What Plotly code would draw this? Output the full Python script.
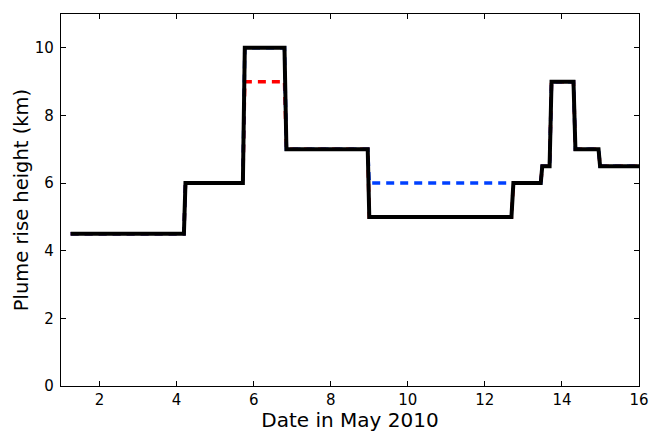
import plotly.graph_objects as go

# Date in May 2010 (days) and plume rise heights (km)
days = [1.25, 4.19, 4.23, 5.72, 5.77, 6.80, 6.85, 8.96, 9.00, 12.69, 12.74,
        13.45, 13.49, 13.68, 13.73, 14.30, 14.35, 14.95, 14.99, 16.0]
height_black = [4.5, 4.5, 6, 6, 10, 10, 7, 7, 5, 5, 6, 6, 6.5, 6.5, 9, 9, 7, 7, 6.5, 6.5]
height_red = [4.5, 4.5, 6, 6, 9, 9, 7, 7, 5, 5, 6, 6, 6.5, 6.5, 9, 9, 7, 7, 6.5, 6.5]
height_blue = [4.5, 4.5, 6, 6, 10, 10, 7, 7, 6, 6, 6, 6, 6.5, 6.5, 9, 9, 7, 7, 6.5, 6.5]

x_ticks = [2, 4, 6, 8, 10, 12, 14, 16]
y_ticks = [0, 2, 4, 6, 8, 10]

fig = go.Figure()
fig.add_trace(go.Scatter(x=days, y=height_red, mode="lines",
                         line=dict(color="#ff0000", width=3.5, dash="8px,6px")))
fig.add_trace(go.Scatter(x=days, y=height_blue, mode="lines",
                         line=dict(color="#0040ff", width=3.5, dash="8px,6px")))
fig.add_trace(go.Scatter(x=days, y=height_black, mode="lines",
                         line=dict(color="#000000", width=4)))

font = "DejaVu Sans, sans-serif"
fig.update_layout(
    width=649, height=432,
    margin=dict(l=61, r=10, t=14, b=46, autoexpand=False),
    paper_bgcolor="white", plot_bgcolor="white",
    showlegend=False,
    font=dict(family=font, color="black", size=15),
    xaxis=dict(range=[1, 16], tickvals=x_ticks, ticks="inside", ticklen=5,
               tickcolor="black", showline=True, linecolor="black", linewidth=1.2,
               mirror="ticks", showgrid=False, zeroline=False, automargin=False,
               ticklabelstandoff=0,
               title=dict(text="Date in May 2010", font=dict(size=20), standoff=12)),
    yaxis=dict(range=[0, 11], tickvals=y_ticks, ticks="inside", ticklen=5,
               tickcolor="black", showline=True, linecolor="black", linewidth=1.2,
               mirror="ticks", showgrid=False, zeroline=False, automargin=False,
               ticklabelstandoff=3,
               title=dict(text="Plume rise height (km)", font=dict(size=19.5), standoff=0)),
)
fig.write_html("out.html", config={"displayModeBar": False},
               post_script="document.body.style.margin='0';document.body.style.overflow='hidden';")
